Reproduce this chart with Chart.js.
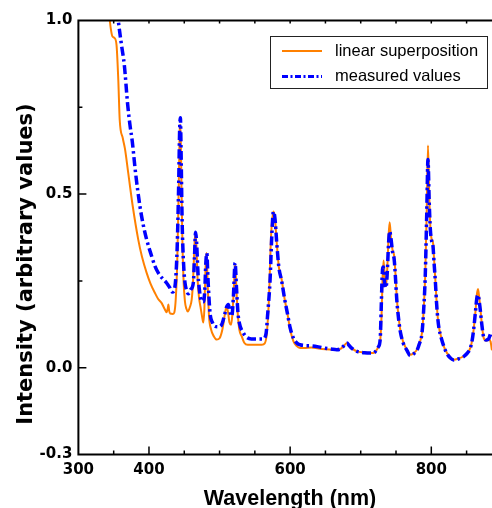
<!DOCTYPE html>
<html>
<head>
<meta charset="utf-8">
<script src="https://cdn.jsdelivr.net/npm/chart.js@4/dist/chart.umd.min.js"></script>
<style>
  html, body { margin: 0; padding: 0; background: #ffffff; overflow: hidden; }
  #c { display: block; background: #ffffff; }
</style>
</head>
<body>
<canvas id="c" width="492" height="508"></canvas>
<script>
// ---------------- DATA ----------------
const seriesNames = ["linear superposition", "measured values"];

// linear superposition (orange)
const superWl = [
  343, 344.5, 346, 348, 351, 354, 356.5, 358.5, 363, 366,
  370.6, 377, 384.8, 390, 396.7, 402, 408.5, 413, 418, 422,
  425, 426.5, 427.5, 428.5, 430, 434, 436, 438, 440, 442,
  443.5, 444.5, 445.5, 447, 449, 451, 453, 455, 458, 460.5,
  462.5, 464, 465.5, 467, 469, 471, 473, 475, 477, 478.5,
  480, 481.5, 483, 485, 488, 492, 496, 500, 504, 508,
  510, 512, 514, 516.3, 518, 520, 522, 524, 526, 528,
  531.5, 535, 540, 550, 560, 564, 567, 570, 573, 576.3,
  578.5, 581, 584, 588, 592, 596, 600, 604.7, 609, 614,
  620, 630, 640, 650, 660, 666, 672, 677, 680.4, 684,
  688, 694.6, 705, 718, 722, 725, 727.7, 729.5, 731, 732.4,
  734, 735.8, 737.5, 739.5, 741, 743, 745, 747.5, 749.5, 751.3,
  754, 756, 760, 765.5, 770, 775, 779.7, 783, 786.8, 789,
  791.5, 793.5, 795.3, 797, 798.6, 800.5, 802.4, 804, 805.7, 807.5,
  809, 811, 813.8, 818, 822.3, 827, 831.6, 838, 845.8, 851,
  855.3, 858, 860, 862.5, 864.5, 866.2, 868, 870, 871, 874.2,
  878, 881.3, 884, 886, 888
];
const superVal = [
  1.03, 1.0, 0.975, 0.955, 0.95, 0.93, 0.83, 0.715, 0.66, 0.63,
  0.561, 0.465, 0.369, 0.32, 0.273, 0.243, 0.215, 0.198, 0.186, 0.17,
  0.16, 0.17, 0.182, 0.165, 0.156, 0.155, 0.16, 0.2, 0.3, 0.5,
  0.68, 0.70, 0.6, 0.4, 0.25, 0.19, 0.17, 0.162, 0.175, 0.196,
  0.25, 0.33, 0.385, 0.36, 0.25, 0.2, 0.175, 0.15, 0.13, 0.17,
  0.28, 0.33, 0.25, 0.15, 0.11, 0.09, 0.081, 0.085, 0.11, 0.16,
  0.177, 0.16, 0.13, 0.124, 0.15, 0.22, 0.297, 0.22, 0.15, 0.11,
  0.09, 0.072, 0.066, 0.066, 0.066, 0.07, 0.1, 0.2, 0.38, 0.45,
  0.43, 0.36, 0.29, 0.254, 0.2, 0.158, 0.11, 0.076, 0.063, 0.057,
  0.057, 0.058, 0.055, 0.053, 0.052, 0.052, 0.055, 0.065, 0.071, 0.063,
  0.055, 0.047, 0.044, 0.042, 0.05, 0.06, 0.08, 0.15, 0.26, 0.309,
  0.26, 0.234, 0.28, 0.38, 0.419, 0.37, 0.34, 0.32, 0.26, 0.196,
  0.14, 0.11, 0.075, 0.052, 0.037, 0.042, 0.052, 0.07, 0.1, 0.16,
  0.273, 0.45, 0.64, 0.5, 0.407, 0.37, 0.36, 0.31, 0.254, 0.19,
  0.148, 0.115, 0.09, 0.06, 0.042, 0.03, 0.023, 0.026, 0.033, 0.042,
  0.057, 0.08, 0.11, 0.16, 0.21, 0.227, 0.2, 0.16, 0.138, 0.086,
  0.078, 0.081, 0.075, 0.05, 0.043
];

// measured values (blue)
const measWl = [
  355, 356.5, 361.3, 365, 369.8, 373, 376.3, 381, 387.2, 392,
  396.7, 403.8, 408, 413.2, 419, 425, 429, 433, 436, 438,
  440, 442, 443.5, 444.5, 445.5, 447, 449, 451, 453, 455.7,
  459, 462.8, 464.5, 466, 467.5, 469.5, 472, 474.7, 477, 479,
  480.5, 482, 483.5, 486.5, 490, 493.6, 498, 503, 507.8, 510,
  512.5, 515, 517.3, 519.5, 522, 524, 526, 528, 533.8, 538,
  545, 555, 562, 566, 568, 571.6, 574, 576.3, 578.5, 581,
  584, 588, 592, 596, 600, 604.7, 610, 614, 620, 630,
  640, 650, 660, 666, 672, 677, 680.4, 684, 688, 694.6,
  705, 718, 722, 725, 727.7, 729, 730.5, 732, 733.5, 735.8,
  737.5, 739.5, 741, 743, 745, 747.5, 749.5, 751.3, 754, 756,
  760, 765.5, 770, 775, 779.7, 783, 786.8, 789, 791.5, 793.5,
  795.3, 797, 798.6, 800.5, 802.4, 804, 805.7, 807.5, 809, 811,
  813.8, 818, 822.3, 827, 831.6, 838, 845.8, 851, 855.3, 858,
  860, 862.5, 864.5, 866.2, 868, 870, 871, 874.2, 878, 881.3,
  884.7, 888
];
const measVal = [
  1.03, 1.0, 0.926, 0.873, 0.758, 0.70, 0.652, 0.561, 0.465, 0.41,
  0.369, 0.321, 0.295, 0.273, 0.257, 0.244, 0.232, 0.218, 0.225, 0.26,
  0.35, 0.52, 0.69, 0.72, 0.62, 0.42, 0.3, 0.245, 0.225, 0.213,
  0.225, 0.244, 0.32, 0.39, 0.36, 0.27, 0.215, 0.191, 0.19, 0.22,
  0.3, 0.33, 0.26, 0.158, 0.13, 0.119, 0.118, 0.124, 0.158, 0.175,
  0.182, 0.16, 0.148, 0.2, 0.302, 0.23, 0.16, 0.129, 0.1, 0.088,
  0.083, 0.083, 0.083, 0.1, 0.15, 0.254, 0.38, 0.45, 0.43, 0.36,
  0.29, 0.25, 0.2, 0.158, 0.115, 0.085, 0.07, 0.066, 0.064, 0.063,
  0.06, 0.056, 0.053, 0.052, 0.055, 0.065, 0.071, 0.063, 0.055, 0.047,
  0.043, 0.042, 0.05, 0.06, 0.085, 0.17, 0.27, 0.29, 0.25, 0.23,
  0.27, 0.36, 0.393, 0.37, 0.335, 0.31, 0.25, 0.19, 0.135, 0.105,
  0.072, 0.05, 0.035, 0.04, 0.05, 0.068, 0.1, 0.16, 0.27, 0.44,
  0.6, 0.48, 0.4, 0.365, 0.35, 0.3, 0.25, 0.185, 0.145, 0.112,
  0.088, 0.06, 0.04, 0.028, 0.022, 0.025, 0.032, 0.042, 0.057, 0.08,
  0.11, 0.16, 0.2, 0.21, 0.19, 0.155, 0.135, 0.088, 0.08, 0.083,
  0.1, 0.092
];

// axis ticks
const xTicksAll = [300, 350, 400, 450, 500, 550, 600, 650, 700, 750, 800, 850];
const xTicksMajor = [400, 600, 800];
const xTickLabels = { 300: "300", 400: "400", 600: "600", 800: "800" };
const yTicksAll = [-0.25, 0, 0.25, 0.5, 0.75, 1.0];
const yTicksMajor = [0, 0.5, 1.0];
const yTickLabels = { "-0.25": "-0.3", "0": "0.0", "0.5": "0.5", "1": "1.0" };
const xTitle = "Wavelength (nm)";
const yTitle = "Intensity (arbitrary values)";

// ---------------- CHART ----------------
const ORANGE = "#ff8000";
const BLUE = "#0000ff";
const BLUE_DASH = [9, 3.5, 2.5, 3.5];

const toPts = (xs, ys) => xs.map((x, i) => ({ x: x, y: ys[i] }));

const framePlugin = {
  id: "frame",
  afterDraw(chart) {
    const ctx = chart.ctx;
    const a = chart.chartArea;
    const xs = chart.scales.x, ys = chart.scales.y;
    ctx.save();
    ctx.strokeStyle = "#000";
    ctx.lineWidth = 2;
    ctx.lineCap = "butt";
    ctx.beginPath();
    // left axis
    ctx.moveTo(a.left, a.top - 1); ctx.lineTo(a.left, a.bottom + 1);
    // bottom axis
    ctx.moveTo(a.left - 1, a.bottom); ctx.lineTo(a.right, a.bottom);
    // top axis
    ctx.moveTo(a.left - 1, a.top); ctx.lineTo(a.right, a.top);
    ctx.stroke();

    ctx.lineWidth = 1.5;
    ctx.beginPath();
    xTicksAll.forEach(v => {
      const px = xs.getPixelForValue(v);
      if (px <= a.left + 1) return;
      const len = xTicksMajor.includes(v) ? 8 : 4;
      ctx.moveTo(px, a.bottom); ctx.lineTo(px, a.bottom - len);
      ctx.moveTo(px, a.top); ctx.lineTo(px, a.top + 3);
    });
    yTicksAll.forEach(v => {
      const py = ys.getPixelForValue(v);
      if (py <= a.top + 1 || py >= a.bottom - 1) return;
      const len = yTicksMajor.includes(v) ? 8 : 4;
      ctx.moveTo(a.left, py); ctx.lineTo(a.left + len, py);
    });
    ctx.stroke();

    // axis titles
    ctx.fillStyle = "#000";
    ctx.font = "bold 21.5px 'Liberation Sans', Arial, sans-serif";
    ctx.textAlign = "center";
    ctx.textBaseline = "alphabetic";
    ctx.fillText(xTitle, 290, 505);

    ctx.save();
    ctx.translate(32, 264);
    ctx.rotate(-Math.PI / 2);
    ctx.font = "bold 21px 'DejaVu Sans', sans-serif";
    ctx.textAlign = "center";
    ctx.textBaseline = "alphabetic";
    ctx.fillText(yTitle, 0, 0);
    ctx.restore();

    // legend
    const bx = 270, by = 36, bw = 217, bh = 52;
    ctx.fillStyle = "#fff";
    ctx.fillRect(bx, by, bw, bh);
    ctx.strokeStyle = "#222";
    ctx.lineWidth = 1;
    ctx.strokeRect(bx + 0.5, by + 0.5, bw, bh);

    ctx.lineWidth = 2;
    ctx.strokeStyle = ORANGE;
    ctx.beginPath(); ctx.moveTo(282, 51); ctx.lineTo(322, 51); ctx.stroke();

    ctx.lineWidth = 3;
    ctx.strokeStyle = BLUE;
    ctx.setLineDash([6, 2.5, 2, 2.5]);
    ctx.beginPath(); ctx.moveTo(282, 76.5); ctx.lineTo(322, 76.5); ctx.stroke();
    ctx.setLineDash([]);

    ctx.fillStyle = "#000";
    ctx.font = "16.5px 'Liberation Sans', Arial, sans-serif";
    ctx.textAlign = "left";
    ctx.textBaseline = "middle";
    ctx.fillText(seriesNames[0], 335, 51);
    ctx.fillText(seriesNames[1], 335, 76.5);
    ctx.restore();
  }
};

new Chart(document.getElementById("c"), {
  type: "line",
  data: {
    datasets: [
      {
        label: seriesNames[0],
        data: toPts(superWl, superVal),
        borderColor: ORANGE,
        borderWidth: 2,
        pointRadius: 0,
        cubicInterpolationMode: "monotone",
        fill: false,
        order: 2
      },
      {
        label: seriesNames[1],
        data: toPts(measWl, measVal),
        borderColor: BLUE,
        borderWidth: 3.5,
        borderDash: BLUE_DASH,
        pointRadius: 0,
        cubicInterpolationMode: "monotone",
        fill: false,
        order: 1
      }
    ]
  },
  options: {
    responsive: false,
    animation: false,
    devicePixelRatio: 1,
    layout: { padding: { top: 20.5, right: 0, bottom: 0, left: 0 } },
    plugins: { legend: { display: false }, tooltip: { enabled: false }, title: { display: false } },
    scales: {
      x: {
        type: "linear",
        position: "bottom",
        min: 300,
        max: 886,
        afterBuildTicks: s => { s.ticks = xTicksAll.map(v => ({ value: v })); },
        afterFit: s => { s.height = 53.5; },
        grid: { display: false, drawTicks: false, tickLength: 0 },
        border: { display: false },
        ticks: {
          autoSkip: false,
          maxRotation: 0,
          padding: 7,
          color: "#000",
          font: { family: "'DejaVu Sans', sans-serif", weight: "bold", size: 15 },
          callback: v => xTickLabels[v] || ""
        }
      },
      y: {
        type: "linear",
        position: "left",
        min: -0.25,
        max: 1.0,
        afterBuildTicks: s => { s.ticks = yTicksAll.map(v => ({ value: v })); },
        afterFit: s => { s.width = 78.4; },
        grid: { display: false, drawTicks: false, tickLength: 0 },
        border: { display: false },
        ticks: {
          autoSkip: false,
          padding: 6,
          color: "#000",
          font: { family: "'DejaVu Sans', sans-serif", weight: "bold", size: 15 },
          callback: v => yTickLabels[String(v)] || ""
        }
      }
    }
  },
  plugins: [framePlugin]
});
</script>
</body>
</html>
